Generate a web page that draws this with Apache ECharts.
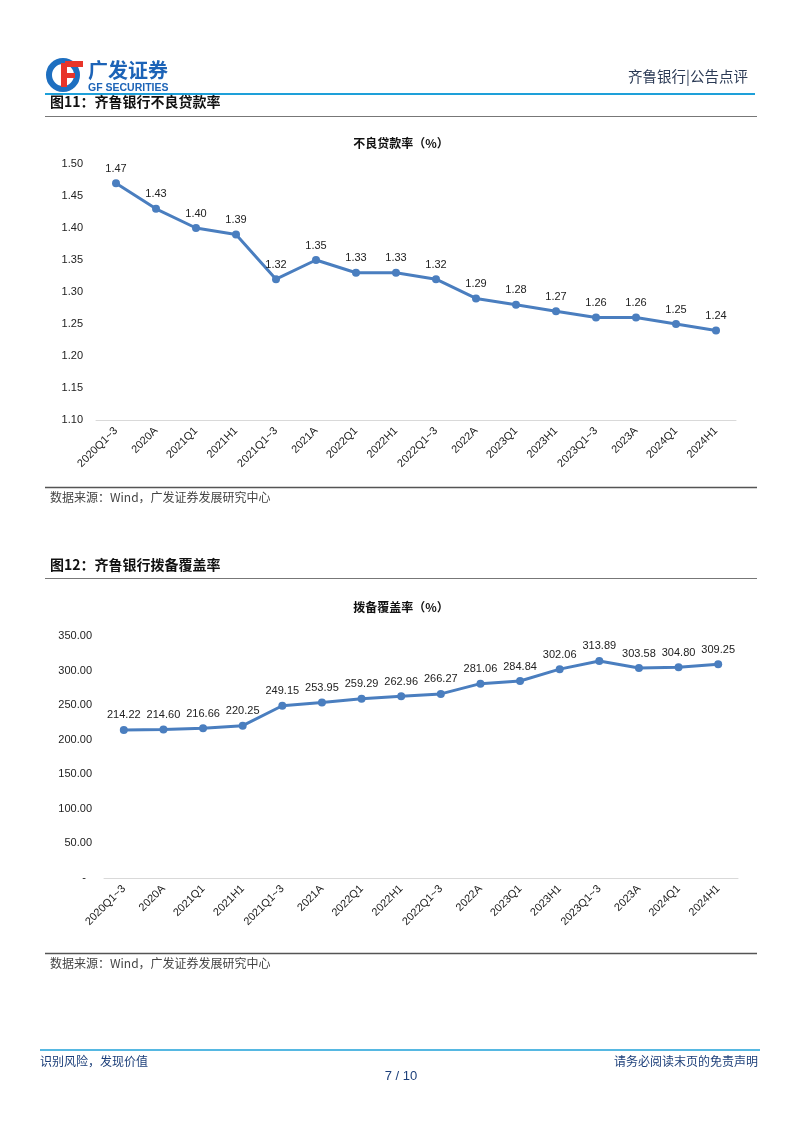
<!DOCTYPE html>
<html><head><meta charset="utf-8">
<script src="https://cdn.jsdelivr.net/npm/echarts@6/dist/echarts.min.js"></script>
<style>html,body{margin:0;padding:0;background:#fff}#c{width:802px;height:1133px}</style>
</head><body><div id="c"></div>
<script>
const categories = ['2020Q1~3','2020A','2021Q1','2021H1','2021Q1~3','2021A','2022Q1','2022H1','2022Q1~3','2022A','2023Q1','2023H1','2023Q1~3','2023A','2024Q1','2024H1'];
const nplRatio = [1.47,1.43,1.40,1.39,1.32,1.35,1.33,1.33,1.32,1.29,1.28,1.27,1.26,1.26,1.25,1.24];
const coverageRatio = [214.22,214.60,216.66,220.25,249.15,253.95,259.29,262.96,266.27,281.06,284.84,302.06,313.89,303.58,304.80,309.25];

const lineColor = '#4a7ebf';
const font = 'Liberation Sans, Arial, sans-serif';
const cjk = 'Noto Sans CJK SC, sans-serif';
const chart = echarts.init(document.getElementById('c'), null, {renderer:'canvas'});

function xAxisCfg(gi){
  return {type:'category', gridIndex:gi, data:categories, boundaryGap:true,
    axisLine:{lineStyle:{color:'#d9d9d9', width:1}}, axisTick:{show:false},
    axisLabel:{rotate:45, color:'#222', fontSize:11, fontFamily:font, margin:9, interval:0}};
}
function seriesCfg(gi, data, fmt){
  return {type:'line', xAxisIndex:gi, yAxisIndex:gi, data:data, symbol:'circle', symbolSize:8,
    lineStyle:{color:lineColor, width:3}, itemStyle:{color:lineColor},
    label:{show:true, position:'top', distance:5, color:'#222', fontSize:11, fontFamily:font, formatter:fmt},
    animation:false};
}

chart.setOption({
  animation:false,
  title:[
    {text:'不良贷款率（%）', left:'center', top:132, textStyle:{fontSize:12, fontWeight:'bold', color:'#111', fontFamily:cjk}},
    {text:'拨备覆盖率（%）', left:'center', top:596, textStyle:{fontSize:12, fontWeight:'bold', color:'#111', fontFamily:cjk}}
  ],
  grid:[
    {left:96, right:66, top:164, bottom:713},
    {left:104, right:64, top:636, bottom:255}
  ],
  xAxis:[xAxisCfg(0), xAxisCfg(1)],
  yAxis:[
    {type:'value', gridIndex:0, min:1.10, max:1.50, interval:0.05, splitLine:{show:false}, axisLine:{show:false}, axisTick:{show:false},
     axisLabel:{color:'#222', fontSize:11, fontFamily:font, margin:13, formatter:v=>v.toFixed(2)}},
    {type:'value', gridIndex:1, min:0, max:350, interval:50, splitLine:{show:false}, axisLine:{show:false}, axisTick:{show:false},
     axisLabel:{color:'#222', fontSize:11, fontFamily:font, margin:12, formatter:v=> v===0 ? '-  ' : v.toFixed(2)}}
  ],
  series:[
    seriesCfg(0, nplRatio, p=>p.value.toFixed(2)),
    seriesCfg(1, coverageRatio, p=>p.value.toFixed(2))
  ],
  graphic:[
    // logo icon
    {type:'circle', shape:{cx:63, cy:75, r:14}, style:{fill:'none', stroke:'#1e6fc0', lineWidth:6}},
    {type:'rect', shape:{x:65, y:61, width:18, height:6}, style:{fill:'#e8352a'}},
    {type:'rect', shape:{x:61, y:63, width:6, height:24}, style:{fill:'#e8352a'}},
    {type:'rect', shape:{x:61, y:73, width:14, height:5}, style:{fill:'#e8352a'}},
    {type:'text', x:88, y:60, style:{text:'广发证券', fill:'#1c63b7', font:'bold 20px '+cjk}},
    {type:'text', x:88, y:83, style:{text:'GF SECURITIES', fill:'#1c63b7', font:'bold 10.5px '+font}},
    {type:'text', x:748, y:69, style:{text:'齐鲁银行|公告点评', fill:'#2b3a55', font:'14.5px '+cjk, align:'right'}},
    {type:'line', shape:{x1:45, y1:94, x2:755, y2:94}, style:{stroke:'#1ea0d9', lineWidth:2}},
    // figure 11
    {type:'text', x:50, y:95, style:{text:'图11：齐鲁银行不良贷款率', fill:'#111', font:'bold 14px '+cjk}},
    {type:'line', shape:{x1:45, y1:116.5, x2:757, y2:116.5}, style:{stroke:'#777', lineWidth:1}},
    {type:'line', shape:{x1:45, y1:487.5, x2:757, y2:487.5}, style:{stroke:'#555', lineWidth:1.5}},
    {type:'text', x:50, y:491, style:{text:'数据来源：Wind，广发证券发展研究中心', fill:'#444', font:'12px '+cjk}},
    // figure 12
    {type:'text', x:50, y:558, style:{text:'图12：齐鲁银行拨备覆盖率', fill:'#111', font:'bold 14px '+cjk}},
    {type:'line', shape:{x1:45, y1:578.5, x2:757, y2:578.5}, style:{stroke:'#777', lineWidth:1}},
    {type:'line', shape:{x1:45, y1:953.5, x2:757, y2:953.5}, style:{stroke:'#555', lineWidth:1.5}},
    {type:'text', x:50, y:957, style:{text:'数据来源：Wind，广发证券发展研究中心', fill:'#444', font:'12px '+cjk}},
    // footer
    {type:'line', shape:{x1:40, y1:1050, x2:760, y2:1050}, style:{stroke:'#1ea0d9', lineWidth:1.5}},
    {type:'text', x:40, y:1055, style:{text:'识别风险，发现价值', fill:'#1c3f7a', font:'12px '+cjk}},
    {type:'text', x:758, y:1055, style:{text:'请务必阅读末页的免责声明', fill:'#1c3f7a', font:'12px '+cjk, align:'right'}},
    {type:'text', x:401, y:1070, style:{text:'7 / 10', fill:'#1c3f7a', font:'13px '+font, align:'center'}}
  ]
});
</script></body></html>
